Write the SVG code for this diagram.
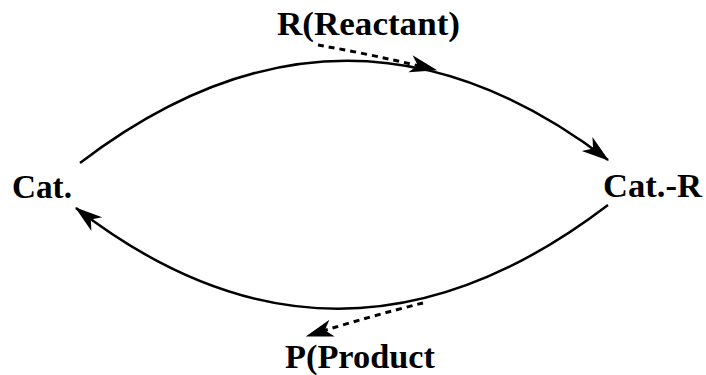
<svg xmlns="http://www.w3.org/2000/svg" width="706" height="375" viewBox="0 0 706 375">
<style>
.lbl{font-family:"Liberation Serif","Times New Roman",serif;font-weight:bold;font-size:33px;fill:#000}
.arc{fill:none;stroke:#000;stroke-width:2.5}
.dash{fill:none;stroke:#000;stroke-width:3;stroke-dasharray:6 5}
</style>
<defs>
<marker id="ah" markerUnits="userSpaceOnUse" markerWidth="30" markerHeight="20" viewBox="-22 -8 24 16" refX="0" refY="0" orient="auto" overflow="visible">
<path d="M1,0 L-21,-7 L-15,0 L-21,7 Z" fill="#000"/>
</marker>
</defs>
<rect width="706" height="375" fill="#fff"/>
<g id="cat"><text class="lbl" x="12" y="198" textLength="60" lengthAdjust="spacingAndGlyphs">Cat.</text></g>
<g id="cat-r"><text class="lbl" x="603" y="197" textLength="99" lengthAdjust="spacingAndGlyphs">Cat.-R</text></g>
<g id="reactant"><text class="lbl" x="277" y="35" textLength="183" lengthAdjust="spacingAndGlyphs">R(Reactant)</text></g>
<g id="product"><text class="lbl" x="285" y="368" textLength="150" lengthAdjust="spacingAndGlyphs">P(Product</text></g>
<g id="connectors">
<path class="arc" d="M80,163 Q346,-40 608,160" marker-end="url(#ah)"/>
<path class="arc" d="M608,205 Q338,411 76,208" marker-end="url(#ah)"/>
<path class="dash" d="M318,45 Q375,55 436,70" marker-end="url(#ah)"/>
<path class="dash" d="M423,303 Q370,316 307,336" marker-end="url(#ah)"/>
</g>
</svg>
